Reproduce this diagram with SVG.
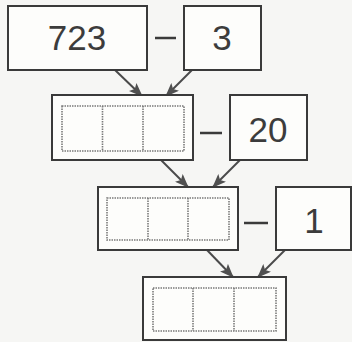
<svg xmlns="http://www.w3.org/2000/svg" width="352" height="342" viewBox="0 0 352 342">
<defs>
<style>
.box{fill:#fdfdfb;stroke:#3a3a3a;stroke-width:2}
.cells{fill:none;stroke:#7a7a7a;stroke-width:1.6;stroke-dasharray:1.5 1}
.num{font-family:"Liberation Sans",Arial,sans-serif;font-size:35px;fill:#3c3c3c;text-anchor:middle}
.minus{stroke:#3a3a3a;stroke-width:2.5}
.arr{stroke:#4a4a4a;stroke-width:2;fill:none;marker-end:url(#ah)}
</style>
<marker id="ah" viewBox="0 0 14 11" refX="13" refY="5.5" markerWidth="14" markerHeight="11" markerUnits="userSpaceOnUse" orient="auto">
<path d="M0,0 L14,5.5 L0,11 L3,5.5 Z" fill="#505050"/>
</marker>
</defs>
<rect width="352" height="342" fill="#f6f6f4"/>
<g id="connectors">
<line class="arr" x1="115" y1="70" x2="142" y2="96"/>
<line class="arr" x1="192" y1="70" x2="166" y2="96"/>
<line class="arr" x1="161" y1="160" x2="188" y2="187"/>
<line class="arr" x1="240" y1="160" x2="213" y2="187"/>
<line class="arr" x1="207" y1="250" x2="233" y2="277"/>
<line class="arr" x1="285" y1="250" x2="258" y2="277"/>
<line class="minus" x1="155" y1="38" x2="176" y2="38"/>
<line class="minus" x1="200" y1="133" x2="222" y2="133"/>
<line class="minus" x1="244" y1="223" x2="268" y2="223"/>
</g>
<g id="n723">
<rect class="box" x="8" y="6" width="139" height="64"/>
<text class="num" x="77" y="50">723</text>
</g>
<g id="n3">
<rect class="box" x="184" y="6" width="77" height="64"/>
<text class="num" x="222" y="50">3</text>
</g>
<g id="r1">
<rect class="box" x="52" y="95" width="141" height="65"/>
<rect class="cells" x="62" y="106" width="122" height="45"/>
<line class="cells" x1="102.5" y1="106" x2="102.5" y2="151"/>
<line class="cells" x1="143" y1="106" x2="143" y2="151"/>
</g>
<g id="n20">
<rect class="box" x="230" y="95" width="77" height="65"/>
<text class="num" x="268" y="142">20</text>
</g>
<g id="r2">
<rect class="box" x="98" y="187" width="140" height="63"/>
<rect class="cells" x="107" y="198" width="122" height="42"/>
<line class="cells" x1="148" y1="198" x2="148" y2="240"/>
<line class="cells" x1="188" y1="198" x2="188" y2="240"/>
</g>
<g id="n1">
<rect class="box" x="276" y="187" width="75" height="63"/>
<text class="num" x="314" y="233">1</text>
</g>
<g id="r3">
<rect class="box" x="143" y="277" width="143" height="63"/>
<rect class="cells" x="153" y="288" width="123" height="43"/>
<line class="cells" x1="193" y1="288" x2="193" y2="331"/>
<line class="cells" x1="234" y1="288" x2="234" y2="331"/>
</g>
</svg>
